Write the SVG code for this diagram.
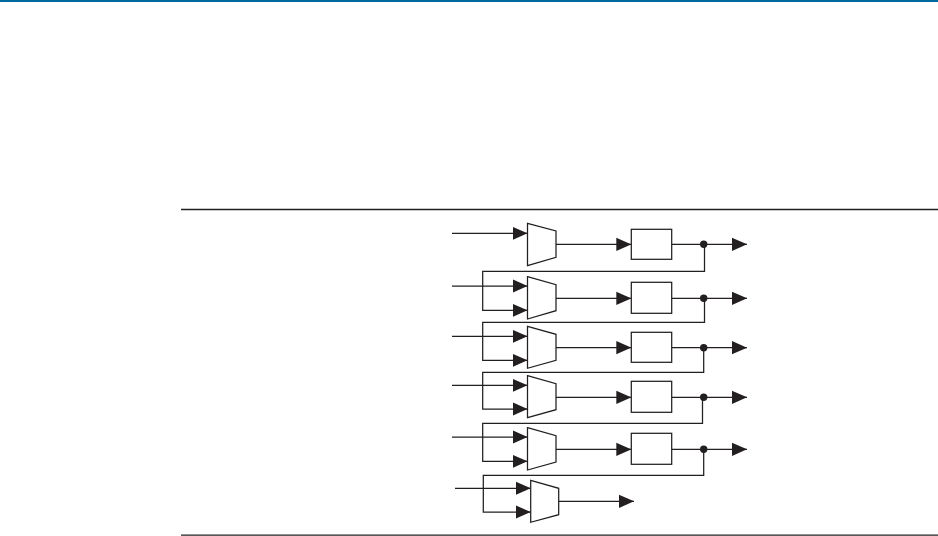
<svg xmlns="http://www.w3.org/2000/svg" width="938" height="536" viewBox="0 0 938 536">
<style>
.w{fill:none;stroke:#231f20;stroke-width:1.25}
.s{fill:#fff;stroke:#231f20;stroke-width:1.25}
.d{fill:#231f20}
.r{fill:none;stroke:#231f20;stroke-width:1.3}
</style>
<defs>
<marker id="a" markerUnits="userSpaceOnUse" markerWidth="15" markerHeight="14" refX="15" refY="7" orient="auto"><path d="M0 0.4L15 7L0 13.6Z" fill="#231f20"/></marker>
</defs>
<rect width="938" height="536" fill="#fff"/>
<rect id="top-bar" x="0" y="0" width="938" height="2" fill="#00689d"/>
<path class="r" d="M181 209.5H938"/>
<path class="r" d="M181 535.2H938"/>
<g id="connectors">
<path class="w" marker-end="url(#a)" d="M452 233.3H527.5"/>
<path class="w" marker-end="url(#a)" d="M556 244.3H631.3"/>
<path class="w" marker-end="url(#a)" d="M671.7 244.3H747"/>
<path class="w" marker-end="url(#a)" d="M704.5 244.3V271.3H482.7V310.3H527.5"/>
<path class="w" marker-end="url(#a)" d="M452 286H527.5"/>
<path class="w" marker-end="url(#a)" d="M556 298.3H631.3"/>
<path class="w" marker-end="url(#a)" d="M671.7 298.3H747"/>
<path class="w" marker-end="url(#a)" d="M704.5 298.3V322.3H482.7V360.3H527.5"/>
<path class="w" marker-end="url(#a)" d="M452 336.3H527.5"/>
<path class="w" marker-end="url(#a)" d="M556 347.7H631.3"/>
<path class="w" marker-end="url(#a)" d="M671.7 347.7H747"/>
<path class="w" marker-end="url(#a)" d="M703.7 347.7V372.3H482.7V409H527.5"/>
<path class="w" marker-end="url(#a)" d="M452 385.3H527.5"/>
<path class="w" marker-end="url(#a)" d="M556 397.3H631.3"/>
<path class="w" marker-end="url(#a)" d="M671.7 397.3H747"/>
<path class="w" marker-end="url(#a)" d="M702.5 397.3V423.3H482.7V461.3H527.5"/>
<path class="w" marker-end="url(#a)" d="M452 437H527.5"/>
<path class="w" marker-end="url(#a)" d="M556 449.3H631.3"/>
<path class="w" marker-end="url(#a)" d="M671.7 449.3H747"/>
<path class="w" marker-end="url(#a)" d="M703.7 449.3V475.3H483.3V512H530.7"/>
<path class="w" marker-end="url(#a)" d="M455 488.3H530.7"/>
<path class="w" marker-end="url(#a)" d="M558.7 501.3H634"/>
</g>
<g id="mux1"><path class="s" d="M527.5 223.3L556 231V257.3L527.5 265.7Z"/></g>
<g id="mux2"><path class="s" d="M527.5 276.7L556 284.7V310.7L527.5 319Z"/></g>
<g id="mux3"><path class="s" d="M527.5 326.3L556 334.3V360.3L527.5 368.3Z"/></g>
<g id="mux4"><path class="s" d="M527.5 375.7L556 383.7V409.7L527.5 417.7Z"/></g>
<g id="mux5"><path class="s" d="M527.5 427.7L556 435.7V462L527.5 470Z"/></g>
<g id="mux6"><path class="s" d="M530.7 480.3L558.7 488.3V514.7L530.7 522.3Z"/></g>
<g id="box1"><rect class="s" x="631.3" y="229.3" width="40.4" height="30"/></g>
<g id="box2"><rect class="s" x="631.3" y="282.3" width="40.4" height="31"/></g>
<g id="box3"><rect class="s" x="631.3" y="332.3" width="40.4" height="30"/></g>
<g id="box4"><rect class="s" x="631.3" y="381.3" width="40.4" height="31"/></g>
<g id="box5"><rect class="s" x="631.3" y="433.3" width="40.4" height="31"/></g>
<g id="dot1"><circle class="d" cx="703.7" cy="244.3" r="3.7"/></g>
<g id="dot2"><circle class="d" cx="703.7" cy="298.3" r="3.7"/></g>
<g id="dot3"><circle class="d" cx="703.7" cy="347.7" r="3.7"/></g>
<g id="dot4"><circle class="d" cx="703.7" cy="397.3" r="3.7"/></g>
<g id="dot5"><circle class="d" cx="703.7" cy="449.3" r="3.7"/></g>
</svg>
